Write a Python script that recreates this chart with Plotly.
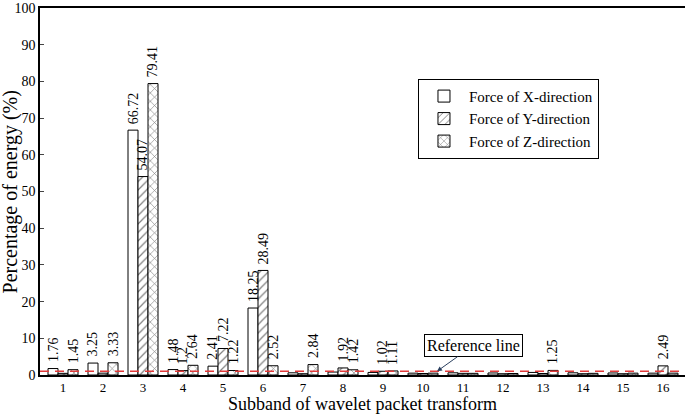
import plotly.graph_objects as go

subbands = list(range(1, 17))
force_x = [1.76, 3.25, 66.72, 1.48, 2.41, 18.25, 0.6, 0.8, 0.7, 0.5, 0.6, 0.55, 0.7, 0.6, 0.55, 0.5]
force_y = [0.45, 0.5, 54.07, 1.2, 7.22, 28.49, 0.35, 1.92, 1.02, 0.4, 0.45, 0.35, 0.4, 0.35, 0.35, 2.49]
force_z = [1.45, 3.33, 79.41, 2.64, 1.22, 2.52, 2.84, 1.42, 1.11, 0.5, 0.45, 0.4, 1.25, 0.45, 0.5, 0.5]
reference_level = 1.0

font = "Liberation Serif, Times New Roman, serif"

series = [
    ("Force of X-direction", force_x, "", -10),
    ("Force of Y-direction", force_y, "/", 0),
    ("Force of Z-direction", force_z, "x", 10),
]

fig = go.Figure()
for name, vals, shape, shift in series:
    fig.add_trace(go.Bar(
        x=subbands, y=vals, name=name,
        marker=dict(color="white", line=dict(color="black", width=1),
                    pattern=dict(shape=shape, fgcolor="black", bgcolor="white",
                                 size=6, solidity=0.2)),
    ))
    # value labels, only for values of 1% and above as in the original
    for s, v in zip(subbands, vals):
        if v >= 1:
            fig.add_annotation(x=s, y=v, xshift=shift, yshift=4, text=f"{v:g}",
                               textangle=-90, showarrow=False,
                               xanchor="center", yanchor="bottom",
                               font=dict(family=font, size=14, color="black"))

fig.add_shape(type="line", xref="paper", x0=0, x1=1, yref="y",
              y0=reference_level, y1=reference_level,
              line=dict(color="#e03a3a", width=1.5, dash="9px,6px"))

fig.add_annotation(x=10.35, y=reference_level, ax=11.25, ay=8,
                   axref="x", ayref="y", text="Reference line",
                   showarrow=True, arrowhead=2, arrowsize=1, arrowwidth=1,
                   bordercolor="black", borderwidth=1, borderpad=2, bgcolor="white",
                   font=dict(family=font, size=16, color="black"))

fig.add_annotation(x=0.5, y=-0.078, xref="paper", yref="paper",
                   text="Subband of wavelet packet transform", showarrow=False,
                   xanchor="center", yanchor="middle",
                   font=dict(family=font, size=18, color="black"))
fig.add_annotation(x=-0.045, y=0.5, xref="paper", yref="paper",
                   text="Percentage of energy (%)", showarrow=False, textangle=-90,
                   xanchor="center", yanchor="middle",
                   font=dict(family=font, size=20, color="black"))

fig.update_layout(
    width=685, height=414,
    margin=dict(l=40, r=0, t=8, b=39),
    paper_bgcolor="white", plot_bgcolor="white",
    barmode="group", bargap=0.25, bargroupgap=0,
    font=dict(family=font, size=13, color="black"),
    showlegend=True,
    legend=dict(x=0.586, y=0.807, xanchor="left", yanchor="top",
                bordercolor="black", borderwidth=1, bgcolor="white",
                font=dict(family=font, size=15, color="black"),
                itemwidth=40, tracegroupgap=0),
)
fig.update_xaxes(range=[0.425, 16.55], tickmode="array", tickvals=subbands,
                 showline=True, linecolor="black", linewidth=1.5, mirror=True,
                 ticks="", showgrid=False, zeroline=False, automargin=False,
                 tickfont=dict(family=font, size=13))
fig.update_yaxes(range=[0, 100], dtick=10, showline=True, linecolor="black",
                 linewidth=1.5, mirror=True, ticks="inside", ticklen=4,
                 showgrid=False, zeroline=False, automargin=False,
                 tickfont=dict(family=font, size=14))

# drop the default 8px page margin so the figure fills the window
fig.write_html("out.html", config={"displayModeBar": False},
               post_script="document.body.style.margin='0';")
